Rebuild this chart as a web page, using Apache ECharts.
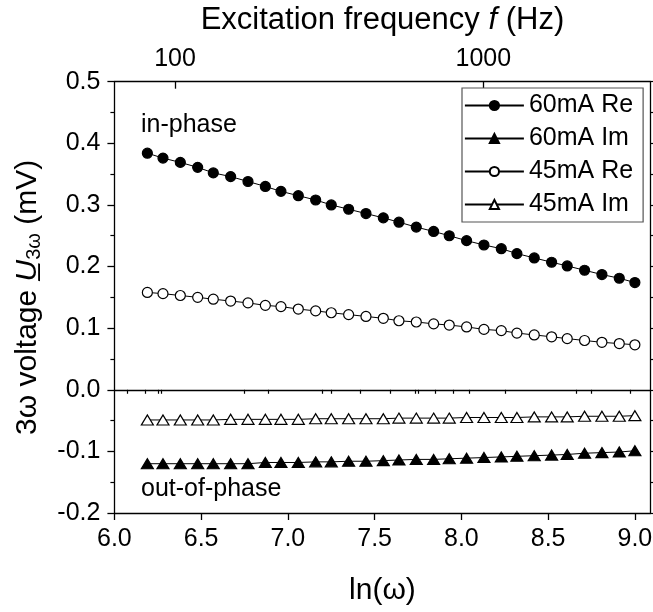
<!DOCTYPE html>
<html>
<head>
<meta charset="utf-8">
<script src="https://cdn.jsdelivr.net/npm/echarts@6/dist/echarts.min.js"></script>
<style>
   body { margin: 0; background: #fff; }
   #main { width: 653px; height: 612px; }
</style>
</head>
<body>
<div id="main"></div>
<script>
const FONT = "'Liberation Sans', Arial, sans-serif";
// ln(omega) of each measurement point
const lnOmega = [6.19, 6.28, 6.38, 6.48, 6.57, 6.67, 6.77, 6.87, 6.96, 7.06,
   7.16, 7.25, 7.35, 7.45, 7.55, 7.64, 7.74, 7.84, 7.93, 8.03,
   8.13, 8.23, 8.32, 8.42, 8.52, 8.61, 8.71, 8.81, 8.91, 9.00];
const re60 = [0.384, 0.376, 0.369, 0.361, 0.352, 0.346, 0.338, 0.330, 0.322, 0.315,
   0.308, 0.300, 0.293, 0.286, 0.279, 0.272, 0.264, 0.257, 0.250, 0.242,
   0.235, 0.229, 0.221, 0.214, 0.207, 0.201, 0.194, 0.187, 0.181, 0.174];
const im60 = [-0.120, -0.120, -0.120, -0.120, -0.120, -0.120, -0.120, -0.118, -0.118, -0.118,
   -0.117, -0.117, -0.116, -0.116, -0.115, -0.114, -0.113, -0.113, -0.112, -0.111,
   -0.110, -0.109, -0.108, -0.107, -0.106, -0.105, -0.103, -0.102, -0.101, -0.099];
const re45 = [0.158, 0.156, 0.153, 0.150, 0.147, 0.144, 0.141, 0.137, 0.135, 0.131,
   0.128, 0.125, 0.122, 0.119, 0.116, 0.112, 0.110, 0.107, 0.105, 0.102,
   0.098, 0.096, 0.092, 0.089, 0.086, 0.083, 0.080, 0.077, 0.075, 0.073];
const im45 = [-0.049, -0.049, -0.049, -0.049, -0.049, -0.048, -0.048, -0.048, -0.048, -0.048,
   -0.047, -0.047, -0.047, -0.047, -0.047, -0.046, -0.046, -0.046, -0.046, -0.045,
   -0.045, -0.045, -0.045, -0.044, -0.044, -0.044, -0.043, -0.043, -0.043, -0.042];

const xMajor = [6.0, 6.5, 7.0, 7.5, 8.0, 8.5, 9.0];
const xMinor = [6.25, 6.75, 7.25, 7.75, 8.25, 8.75];
const freqMajor = [100, 1000];
const freqMinor = [70, 80, 90, 200, 300, 400, 500, 600, 700, 800, 900, 2000, 3000];

const black = '#000';
const pairs = (ys) => lnOmega.map((x, i) => [x, ys[i]]);

const mkSeries = (name, ys, symbol, filled, size) => {
   return {
      type: 'line',
      name: name,
      data: pairs(ys),
      symbol: symbol,
      symbolSize: size,
      showAllSymbol: true,
      lineStyle: { color: black, width: 1 },
      itemStyle: {
         color: filled ? black : '#fff',
         borderColor: black,
         borderWidth: 1.2,
      },
      emphasis: { disabled: true },
      z: 3,
   };
};

const chart = echarts.init(document.getElementById('main'));
const series = [
   mkSeries('60mA Re', re60, 'circle', true, 10),
   mkSeries('60mA Im', im60, 'triangle', true, [12, 10]),
   mkSeries('45mA Re', re45, 'circle', false, 10),
   mkSeries('45mA Im', im45, 'triangle', false, [12, 10]),
];
series[0].markLine = {
   silent: true,
   symbol: ['none', 'none'],
   label: { show: false },
   lineStyle: { color: black, type: 'solid', width: 1.3 },
   data: [{ yAxis: 0 }],
};

const lineAxis = { show: true, onZero: false, lineStyle: { color: black, width: 1.3 } };

let option = {
   animation: false,
   textStyle: { fontFamily: FONT },
   grid: {
      left: 114.4, right: 2.5, top: 81.7, bottom: 99,
      containLabel: false,
      outerBoundsMode: 'none',
   },
   legend: {
      left: 462,
      top: 88,
      orient: 'vertical',
      itemWidth: 59,
      itemHeight: 11.5,
      itemGap: 8,
      padding: [5, 10, 5, 2],
      borderColor: '#555',
      borderWidth: 1.2,
      backgroundColor: '#fff',
      lineStyle: { width: 1.8 },
      textStyle: { fontSize: 25, color: black, fontFamily: FONT, lineHeight: 25 },
      data: ['60mA Re', '60mA Im', '45mA Re', '45mA Im'],
   },
   xAxis: [
      {
         type: 'value', position: 'bottom', min: 6.0, max: 9.09,
         axisLine: lineAxis,
         axisTick: { show: true, inside: false, length: 7, customValues: xMajor, lineStyle: { color: black, width: 1.3 } },
         axisLabel: {
            customValues: xMajor, margin: 14, fontSize: 25, color: black, fontFamily: FONT,
            formatter: (v) => v.toFixed(1),
         },
         splitLine: { show: false },
         name: 'ln(ω)',
         nameLocation: 'middle',
         nameGap: 63,
         nameTextStyle: { fontSize: 30, color: black, fontFamily: FONT },
      },
      {
         type: 'value', position: 'top', min: 1.8034, max: 3.5423,
         axisLine: lineAxis,
         axisTick: { show: true, inside: true, length: 7, customValues: freqMajor.map(Math.log10), lineStyle: { color: black, width: 1.3 } },
         axisLabel: {
            customValues: freqMajor.map(Math.log10), margin: 10, fontSize: 25, color: black, fontFamily: FONT,
            formatter: (v) => String(Math.round(Math.pow(10, v))),
         },
         splitLine: { show: false },
         name: '{a|Excitation frequency }{i|f}{a| (Hz)}',
         nameLocation: 'middle',
         nameGap: 46,
         nameTextStyle: {
            rich: {
               a: { fontSize: 31, color: black, fontFamily: FONT },
               i: { fontSize: 31, color: black, fontFamily: FONT, fontStyle: 'italic' },
            },
         },
      },
      {
         type: 'value', position: 'top', min: 1.8034, max: 3.5423,
         axisLine: { show: false },
         axisTick: { show: true, inside: true, length: 4, customValues: freqMinor.map(Math.log10), lineStyle: { color: black, width: 1.2 } },
         axisLabel: { show: false },
         splitLine: { show: false },
      },
      {
         type: 'value', position: 'bottom', min: 6.0, max: 9.09,
         axisLine: { show: false },
         axisTick: { show: true, inside: false, length: 4, customValues: xMinor, lineStyle: { color: black, width: 1.2 } },
         axisLabel: { show: false },
         splitLine: { show: false },
      },
   ],
   yAxis: [
      {
         type: 'value', position: 'left', min: -0.2, max: 0.5, interval: 0.1,
         axisLine: lineAxis,
         axisTick: { show: true, inside: false, length: 7, lineStyle: { color: black, width: 1.3 } },
         minorTick: { show: true, splitNumber: 2, length: 4, lineStyle: { color: black, width: 1.2 } },
         axisLabel: {
            margin: 14, fontSize: 25, color: black, fontFamily: FONT,
            formatter: (v) => v.toFixed(1),
         },
         splitLine: { show: false },
         minorSplitLine: { show: false },
         name: '{a|3ω voltage }{u|U\u0332}{s|3ω}{a| (mV)}',
         nameLocation: 'middle',
         nameGap: 70,
         nameTextStyle: {
            rich: {
               a: { fontSize: 30, color: black, fontFamily: FONT },
               u: { fontSize: 30, color: black, fontFamily: FONT, fontStyle: 'italic' },
               s: { fontSize: 20, color: black, fontFamily: FONT, verticalAlign: 'bottom', padding: [14, 0, 0, 0] },
            },
         },
      },
      {
         type: 'value', position: 'right', min: -0.2, max: 0.5, interval: 0.1,
         axisLine: lineAxis,
         axisTick: { show: true, inside: false, length: 4, lineStyle: { color: black, width: 1.2 } },
         minorTick: { show: true, splitNumber: 2, length: 3, lineStyle: { color: black, width: 1.2 } },
         axisLabel: { show: false },
         splitLine: { show: false },
         minorSplitLine: { show: false },
      },
   ],
   graphic: [
      {
         type: 'text', left: 141, top: 113,
         style: { text: 'in-phase', fontSize: 25, fontFamily: FONT, fill: black },
      },
      {
         type: 'text', left: 141, top: 477,
         style: { text: 'out-of-phase', fontSize: 25, fontFamily: FONT, fill: black },
      },
   ],
   series: series,
};
chart.setOption(option);
</script>
</body>
</html>
